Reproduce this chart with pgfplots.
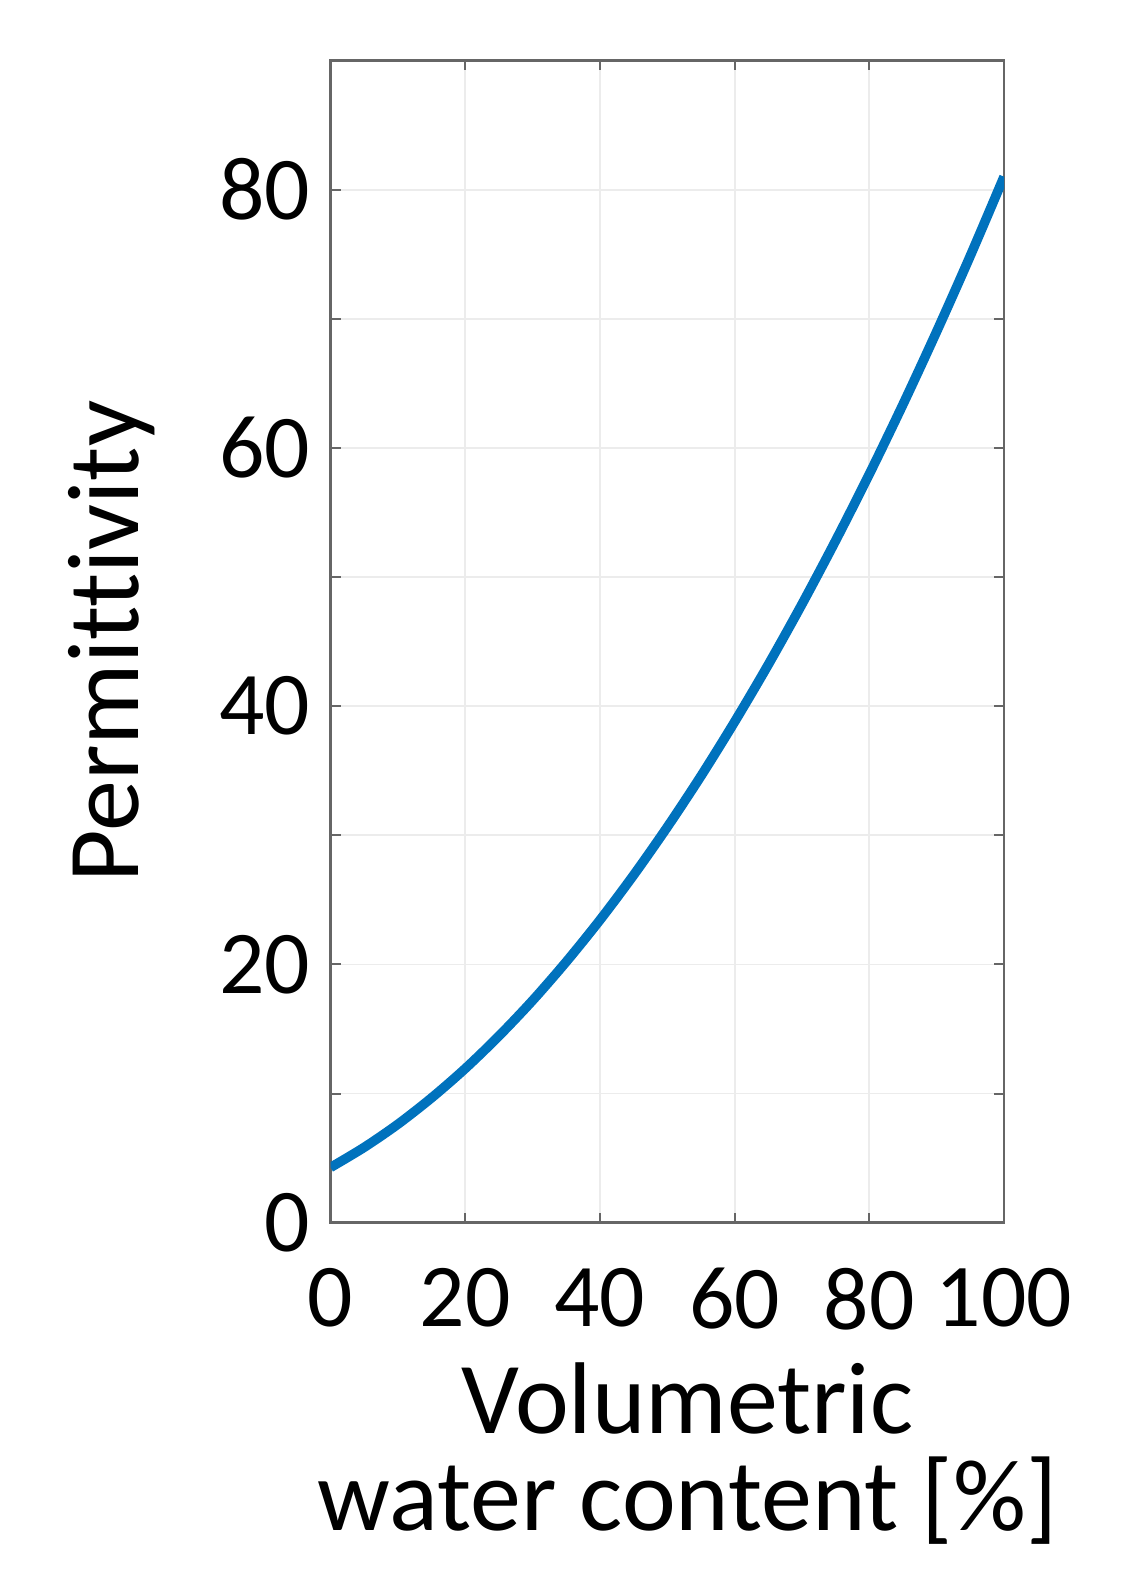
\documentclass[border=0pt]{standalone}
\usepackage{fontspec}
\setmainfont[Ligatures=NoCommon]{Carlito}
\usepackage{pgfplots}
\pgfplotsset{compat=1.18}

\definecolor{mblue}{rgb}{0,0.447,0.741}

\begin{document}
\begin{tikzpicture}
% page frame, 1 px of the reference = 0.1 mm
\path[use as bounding box] (-33.06mm,-35.73mm) rectangle (80.54mm,122.27mm);
\begin{axis}[
    name=ax,
    scale only axis,
    width=67.34mm,
    height=116.22mm,
    xmin=0, xmax=100,
    ymin=0, ymax=90,
    xtick={0,20,...,100},
    ytick={0,20,...,80},
    minor ytick={10,30,...,90},
    grid=both,
    major grid style={gray!15, line width=0.5pt},
    minor grid style={gray!15, line width=0.5pt},
    axis line style={gray!80!black, line width=0.8pt},
    tick style={gray!80!black, line width=0.6pt},
    major tick length=1.0mm,
    minor tick length=1.0mm,
    tick align=inside,
    /pgf/number format/assume math mode=true,
    ticklabel style={font=\fontsize{25.5}{30}\selectfont},
    xticklabel style={yshift=-3.3mm},
    yticklabel style={xshift=-0.8mm},
    xlabel={Volumetric\\water content [\%]},
    ylabel={Permittivity},
    label style={font=\fontsize{29}{27.5}\selectfont},
    xlabel style={align=center, at={(axis description cs:0.53,0)}, anchor=north, yshift=-12.8mm},
    ylabel style={at={(axis description cs:0,0.5)}, anchor=south, yshift=16.3mm},
]
\addplot[mblue, line width=2.7pt, smooth] coordinates {
    (0,4.28) (5,5.84) (10,7.63) (15,9.67) (20,11.94) (25,14.46)
    (30,17.21) (35,20.21) (40,23.44) (45,26.92) (50,30.64) (55,34.59)
    (60,38.79) (65,43.22) (70,47.90) (75,52.82) (80,57.97) (85,63.37)
    (90,69.01) (95,74.88) (100,81.0)
};
\end{axis}
\end{tikzpicture}
\end{document}
